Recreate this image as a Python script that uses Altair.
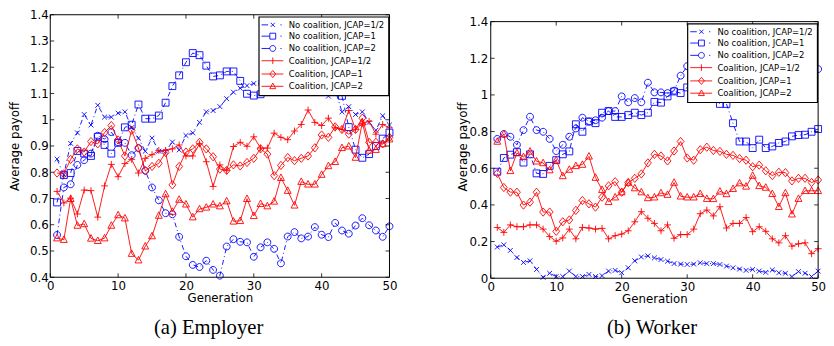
import altair as alt
import pandas as pd

gens = list(range(1, 51))
series_names = ["No coalition, JCAP=1/2", "No coalition, JCAP=1", "No coalition, JCAP=2",
                "Coalition, JCAP=1/2", "Coalition, JCAP=1", "Coalition, JCAP=2"]
series_colors = ["#0000ff", "#0000ff", "#0000ff", "#ff0000", "#ff0000", "#ff0000"]
xticks = [0, 10, 20, 30, 40, 50]
emp_yticks = [0.4, 0.5, 0.6, 0.7, 0.8, 0.9, 1.0, 1.1, 1.2, 1.3, 1.4]
wrk_yticks = [0.0, 0.2, 0.4, 0.6, 0.8, 1.0, 1.2, 1.4]
subtitles = ["(a) Employer", "(b) Worker"]

# Employer
emp_nc_half = [0.85, 0.79, 0.91, 0.95, 1.02, 0.98, 1.055, 1.01, 1.01, 1.025,
               1.03, 0.97, 0.93, 0.88, 0.93, 0.88, 0.88, 0.915, 0.885, 0.94,
               0.95, 0.99, 1.03, 1.035, 1.05, 1.08, 1.105, 1.12, 1.13, 1.138,
               1.14, 1.14, 1.135, 1.14, 1.14, 1.15, 1.15, 1.16, 1.17, 1.125,
               1.09, 1.115, 1.03, 1.05, 1.02, 1.03, 0.99, 0.96, 1.015, 0.98]
emp_nc_1 = [0.685, 0.789, 0.797, 0.881, 0.871, 0.862, 0.935, 0.904, 0.871, 0.912,
            0.971, 0.981, 1.058, 1.004, 1.004, 1.016, 1.065, 1.128, 1.169, 1.219,
            1.254, 1.246, 1.206, 1.165, 1.169, 1.184, 1.184, 1.148, 1.099, 1.092,
            1.097, 1.129, 1.135, 1.135, 1.17, 1.19, 1.21, 1.23, 1.22, 1.2,
            1.19, 1.17, 1.091, 0.972, 0.886, 0.855, 0.869, 0.9, 0.928, 0.951]
emp_nc_2 = [0.561, 0.742, 0.754, 0.828, 0.846, 0.871, 0.939, 0.926, 0.953, 0.914,
            0.912, 0.865, 0.892, 0.806, 0.742, 0.693, 0.644, 0.64, 0.554, 0.48,
            0.447, 0.439, 0.463, 0.428, 0.406, 0.517, 0.545, 0.535, 0.533, 0.478,
            0.514, 0.533, 0.508, 0.453, 0.555, 0.572, 0.548, 0.555, 0.591, 0.562,
            0.553, 0.607, 0.578, 0.566, 0.597, 0.625, 0.598, 0.578, 0.554, 0.594]
emp_c_half = [0.727, 0.683, 0.701, 0.641, 0.732, 0.73, 0.629, 0.748, 0.83, 0.783,
              0.833, 0.849, 0.797, 0.853, 0.867, 0.883, 0.883, 0.889, 0.904, 0.862,
              0.862, 0.908, 0.84, 0.746, 0.828, 0.806, 0.898, 0.914, 0.899, 0.935,
              0.892, 0.892, 0.949, 0.933, 0.924, 0.957, 0.982, 1.037, 0.99, 0.978,
              1.006, 0.969, 0.963, 1.035, 0.963, 0.985, 0.994, 0.945, 0.982, 0.969]
emp_c_1 = [0.797, 0.794, 0.849, 0.889, 0.877, 0.917, 0.908, 0.951, 0.978, 0.923,
           0.862, 0.96, 0.892, 0.806, 0.822, 0.834, 0.875, 0.752, 0.822, 0.877,
           0.889, 0.914, 0.889, 0.859, 0.812, 0.807, 0.828, 0.824, 0.837, 0.853,
           0.889, 0.869, 0.787, 0.826, 0.856, 0.844, 0.853, 0.862, 0.893, 0.942,
           0.933, 0.973, 0.963, 0.945, 0.963, 1.006, 0.914, 0.914, 0.908, 0.933]
emp_c_2 = [0.549, 0.543, 0.699, 0.597, 0.603, 0.548, 0.539, 0.549, 0.597, 0.637,
           0.625, 0.49, 0.465, 0.518, 0.557, 0.635, 0.717, 0.65, 0.696, 0.678,
           0.629, 0.66, 0.666, 0.678, 0.671, 0.69, 0.613, 0.615, 0.699, 0.634,
           0.68, 0.671, 0.689, 0.779, 0.73, 0.674, 0.764, 0.754, 0.754, 0.791,
           0.824, 0.84, 0.893, 0.899, 0.856, 0.99, 0.883, 0.886, 0.908, 0.926]

# Worker
wrk_nc_half = [0.17, 0.182, 0.152, 0.113, 0.086, 0.095, 0.048, 0.005, 0.027, 0.009,
               0.009, 0.039, 0.009, 0.009, 0.021, 0.009, 0.014, 0.039, 0.043, 0.03,
               0.057, 0.095, 0.116, 0.122, 0.111, 0.102, 0.093, 0.08, 0.077, 0.075,
               0.077, 0.084, 0.08, 0.08, 0.075, 0.066, 0.057, 0.05, 0.043, 0.048,
               0.039, 0.032, 0.045, 0.03, 0.027, 0.009, 0.036, 0.027, 0.009, 0.039]
wrk_nc_1 = [0.581, 0.656, 0.674, 0.688, 0.631, 0.676, 0.572, 0.569, 0.613, 0.644,
            0.676, 0.692, 0.84, 0.799, 0.855, 0.846, 0.903, 0.912, 0.88, 0.88,
            0.89, 0.903, 0.89, 0.903, 0.962, 0.958, 0.992, 1.019, 1.01, 1.041,
            1.032, 0.996, 0.996, 0.987, 0.951, 0.951, 0.846, 0.746, 0.746, 0.71,
            0.756, 0.71, 0.719, 0.738, 0.746, 0.774, 0.781, 0.783, 0.799, 0.814]
wrk_nc_2 = [0.76, 0.787, 0.772, 0.728, 0.808, 0.881, 0.808, 0.799, 0.76, 0.694,
            0.728, 0.772, 0.817, 0.876, 0.855, 0.862, 0.876, 0.912, 0.912, 0.992,
            0.96, 0.983, 0.96, 1.067, 1.014, 1.014, 1.01, 1.023, 1.105, 1.157,
            1.18, 1.2, 1.17, 1.15, 1.16, 1.14, 1.12, 1.1, 1.09, 1.08,
            1.07, 1.06, 1.07, 1.09, 1.1, 1.12, 1.13, 1.14, 1.15, 1.141]
wrk_c_half = [0.277, 0.25, 0.291, 0.281, 0.281, 0.291, 0.291, 0.268, 0.227, 0.202,
              0.22, 0.268, 0.215, 0.277, 0.274, 0.268, 0.272, 0.215, 0.232, 0.241,
              0.259, 0.308, 0.363, 0.327, 0.299, 0.259, 0.291, 0.218, 0.238, 0.238,
              0.268, 0.352, 0.372, 0.34, 0.39, 0.274, 0.299, 0.299, 0.331, 0.254,
              0.281, 0.256, 0.215, 0.193, 0.232, 0.175, 0.188, 0.193, 0.134, 0.161]
wrk_c_1 = [0.572, 0.495, 0.47, 0.469, 0.399, 0.415, 0.469, 0.361, 0.361, 0.256,
           0.308, 0.318, 0.37, 0.424, 0.406, 0.388, 0.442, 0.504, 0.527, 0.469,
           0.522, 0.545, 0.569, 0.629, 0.676, 0.667, 0.64, 0.694, 0.746, 0.656,
           0.644, 0.701, 0.715, 0.697, 0.692, 0.676, 0.67, 0.653, 0.644, 0.608,
           0.617, 0.586, 0.56, 0.578, 0.576, 0.531, 0.545, 0.545, 0.522, 0.536]
wrk_c_2 = [0.746, 0.787, 0.586, 0.683, 0.662, 0.692, 0.638, 0.629, 0.59, 0.644,
           0.558, 0.593, 0.613, 0.62, 0.665, 0.549, 0.483, 0.417, 0.442, 0.47,
           0.522, 0.492, 0.47, 0.438, 0.442, 0.465, 0.456, 0.522, 0.447, 0.442,
           0.442, 0.461, 0.434, 0.433, 0.474, 0.46, 0.488, 0.519, 0.501, 0.56,
           0.504, 0.495, 0.461, 0.39, 0.465, 0.349, 0.434, 0.477, 0.477, 0.477]

emp_series = [emp_nc_half, emp_nc_1, emp_nc_2, emp_c_half, emp_c_1, emp_c_2]
wrk_series = [wrk_nc_half, wrk_nc_1, wrk_nc_2, wrk_c_half, wrk_c_1, wrk_c_2]

# marker glyphs (x, square, circle, plus, diamond, triangle)
marker_paths = [
    "M-0.7,-0.7L0.7,0.7M-0.7,0.7L0.7,-0.7",
    "M-1,-1H1V1H-1Z",
    "M1,0A1,1 0 1,0 -1,0A1,1 0 1,0 1,0Z",
    "M-1,0H1M0,-1V1",
    "M0,-1.2L1,0L0,1.2L-1,0Z",
    "M0,-1.1L1,0.8H-1Z",
]
# legend glyphs: line sample + marker
legend_paths = [
    "M-1.8,0H0.4M1.3,-0.7L2.7,0.7M1.3,0.7L2.7,-0.7M4.6,0H5",
    "M-1.8,0H1M1,-1H3V1H1ZM4.6,0H5",
    "M-1.8,0H1M3,0A1,1 0 1,0 1,0A1,1 0 1,0 3,0ZM4.6,0H5",
    "M-1.8,0H5.6M2,-1.1V1.1",
    "M-1.8,0H5.6M2,-1.2L3,0L2,1.2L1,0Z",
    "M-1.8,0H5.6M2,-1.1L3,0.8H1Z",
]

FONT = "DejaVu Sans"


def panel(series, ymin, ytop, ymax_view, yticks, W, H, top_px, title_pad, label_pad,
          leg_x, leg_y, subtitle, sub_dx, sub_dy):
    xenc = alt.X("gen:Q", scale=alt.Scale(domain=[0, 50], nice=False),
                 axis=alt.Axis(values=xticks, title="Generation", labelPadding=3,
                               titlePadding=2, labelFlush=False, labelOverlap=False))
    yenc = alt.Y("value:Q", scale=alt.Scale(domain=[ymin, ymax_view], nice=False, zero=False),
                 axis=alt.Axis(values=yticks, format=".1~f", title="Average payoff",
                               labelPadding=label_pad, titlePadding=title_pad,
                               labelFlush=False, labelOverlap=False))
    layers = []
    for i, vals in enumerate(series):
        df = pd.DataFrame({"gen": gens, "value": vals})
        col = series_colors[i]
        if i < 3:
            line = alt.Chart(df).mark_line(color=col, strokeWidth=0.9, strokeDash=[5, 3, 1, 3])
        else:
            line = alt.Chart(df).mark_line(color=col, strokeWidth=0.9)
        layers.append(line.encode(x=xenc, y=yenc))
        pts = alt.Chart(df).mark_point(shape=marker_paths[i], filled=False, size=49,
                                       color=col, strokeWidth=0.9, opacity=1)
        layers.append(pts.encode(x=xenc, y=yenc))
    # frame box, drawn at the plot limits through the scales
    hframe = pd.DataFrame({"gen": [0, 0], "gen2": [50, 50], "value": [ymin, ytop]})
    vframe = pd.DataFrame({"gen": [0, 50], "value": [ymin, ymin], "value2": [ytop, ytop]})
    layers.append(alt.Chart(hframe).mark_rule(color="black", strokeWidth=1).encode(
        x=xenc, x2="gen2:Q", y=yenc))
    layers.append(alt.Chart(vframe).mark_rule(color="black", strokeWidth=1).encode(
        x=xenc, y=yenc, y2="value2:Q"))
    # inward ticks on all four sides
    xt = pd.DataFrame({"gen": xticks})
    yt = pd.DataFrame({"value": yticks})
    layers.append(alt.Chart(xt).mark_rule(color="black", strokeWidth=0.8).encode(
        x=xenc, y=alt.value(H), y2=alt.value(H - 4)))
    layers.append(alt.Chart(xt).mark_rule(color="black", strokeWidth=0.8).encode(
        x=xenc, y=alt.value(top_px), y2=alt.value(top_px + 4)))
    layers.append(alt.Chart(yt).mark_rule(color="black", strokeWidth=0.8).encode(
        y=yenc, x=alt.value(0), x2=alt.value(4)))
    layers.append(alt.Chart(yt).mark_rule(color="black", strokeWidth=0.8).encode(
        y=yenc, x=alt.value(W), x2=alt.value(W - 4)))
    # legend
    leg_props = dict(title=None, orient="none", legendX=leg_x, legendY=leg_y, padding=4,
                     fillColor="white", strokeColor="black", labelFont=FONT,
                     labelFontSize=8.6, labelColor="black", labelOffset=18, rowPadding=1.5,
                     symbolSize=36, symbolStrokeWidth=0.9, symbolOpacity=1, zindex=1,
                     labelLimit=300)
    legdf = pd.DataFrame({"series": series_names})
    layers.append(alt.Chart(legdf).mark_point(opacity=0, size=36, filled=False).encode(
        color=alt.Color("series:N", scale=alt.Scale(domain=series_names, range=series_colors),
                        legend=alt.Legend(**leg_props)),
        shape=alt.Shape("series:N", scale=alt.Scale(domain=series_names, range=legend_paths),
                        legend=alt.Legend(**leg_props)),
    ))
    # panel caption
    layers.append(alt.Chart(pd.DataFrame({"t": [subtitle]})).mark_text(
        font="Liberation Serif", fontSize=21, baseline="alphabetic", align="center", color="black"
    ).encode(x=alt.value(W / 2 + sub_dx), y=alt.value(H + sub_dy), text="t:N"))
    return alt.layer(*layers).properties(width=W, height=H)


WL, HL = 345, 267
WR, HR = 333, 268
right_frame_px = 261
right_top_px = HR - right_frame_px
right_ymax = 1.4 * HR / right_frame_px

left = panel(emp_series, 0.4, 1.4, 1.4, emp_yticks, WL, HL, 0, 8, 2,
             212, 2, subtitles[0], -11.5, 58)
right = panel(wrk_series, 0.0, 1.4, right_ymax, wrk_yticks, WR, HR, right_top_px, 0, 3,
              200, 9, subtitles[1], -2.5, 57)

chart = alt.hconcat(left, right, spacing=59).resolve_scale(
    color="independent", shape="independent"
).configure_view(strokeWidth=0).configure_axis(
    grid=False, ticks=False, domain=False, labelFont=FONT, labelFontSize=12,
    titleFont=FONT, titleFontSize=12, titleFontWeight="normal",
    labelColor="black", titleColor="black", labelOverlap=False
).configure_legend(strokeWidth=1.2, cornerRadius=0).properties(
    padding={"left": 0, "top": -2, "right": 0, "bottom": 0},
    background="white")

chart.save("out.html", embed_options={"renderer": "svg", "actions": False})
